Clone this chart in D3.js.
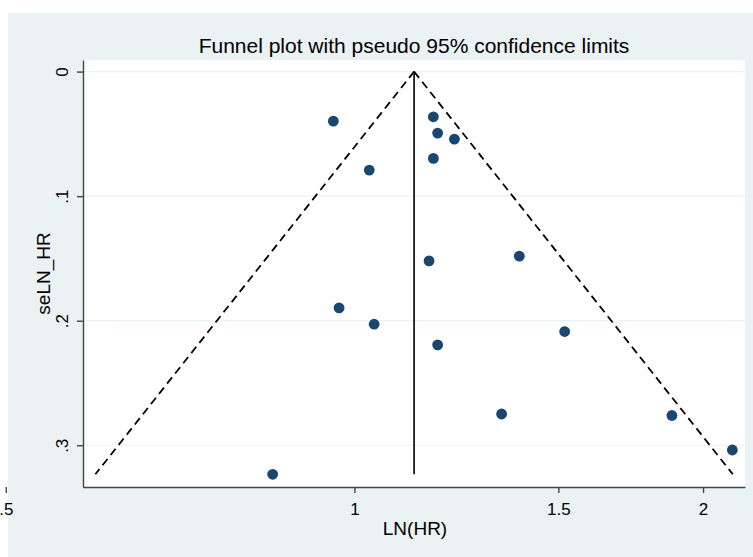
<!DOCTYPE html>
<html>
<head>
<meta charset="utf-8">
<script src="https://cdn.jsdelivr.net/npm/d3@7"></script>
<style>
  body { margin: 0; background: #fff; }
  text { font-family: "Liberation Sans", Arial, sans-serif; fill: #000; }
</style>
</head>
<body>
<div id="vis"></div>
<script>
// study estimates read off the funnel (hazard ratio and its standard error)
const hrValues = [0.959, 1.170, 1.180, 1.220, 1.170, 1.030, 1.160, 1.388,
                  0.970, 1.040, 1.519, 1.180, 1.340, 1.880, 2.120, 0.850];
const seValues = [0.0398, 0.0363, 0.0494, 0.0542, 0.0697, 0.0791, 0.1520, 0.1482,
                  0.1897, 0.2028, 0.2087, 0.2194, 0.2749, 0.2761, 0.3038, 0.3233];

// pooled estimate at the apex of the funnel
const pooledHR = 1.126;

const xTicks = [0.5, 1, 1.5, 2];
const xTickLabels = [".5", "1", "1.5", "2"];
const yTicks = [0, 0.1, 0.2, 0.3];
const yTickLabels = ["0", ".1", ".2", ".3"];

const titleText = "Funnel plot with pseudo 95% confidence limits";
const xTitle = "LN(HR)";
const yTitle = "seLN_HR";

const width = 753;
const height = 557;

// plot region box
const plot = { left: 83, right: 745, top: 60, bottom: 487 };

const svg = d3
  .select("#vis")
  .append("svg")
  .attr("width", width)
  .attr("height", height);

// graph region background
svg.append("rect")
  .attr("x", 8)
  .attr("y", 13)
  .attr("width", width - 8)
  .attr("height", height - 13)
  .attr("fill", "#EAF2F3");

svg.append("rect")
  .attr("x", plot.left)
  .attr("y", plot.top)
  .attr("width", plot.right - plot.left)
  .attr("height", plot.bottom - plot.top)
  .attr("fill", "#fff");

// x is on a log scale, y runs downwards (se 0 at top)
const x = d3.scaleLog()
  .domain([0.583, 2.174])
  .range([plot.left, plot.right]);

const y = d3.scaleLinear()
  .domain([-0.0093, 0.3335])
  .range([plot.top, plot.bottom]);

// gridlines
svg.append("g")
  .selectAll("line")
  .data(yTicks)
  .enter()
  .append("line")
  .attr("x1", plot.left)
  .attr("x2", plot.right)
  .attr("y1", d => y(d))
  .attr("y2", d => y(d))
  .attr("stroke", "#EAF2F3")
  .attr("stroke-width", 1.2);

// pseudo 95% limits, from se = 0 down to the largest se
const maxSe = d3.max(seValues);
const theta = Math.log(pooledHR);
const limitLine = d3.line()
  .x(d => x(Math.exp(theta + d[0] * 1.96 * d[1])))
  .y(d => y(d[1]));

[-1, 1].forEach(side => {
  svg.append("path")
    .attr("d", limitLine([[side, 0], [side, maxSe]]))
    .attr("fill", "none")
    .attr("stroke", "#000")
    .attr("stroke-width", 1.8)
    .attr("stroke-dasharray", "8,5");
});

svg.append("line")
  .attr("x1", x(pooledHR))
  .attr("x2", x(pooledHR))
  .attr("y1", y(0))
  .attr("y2", y(maxSe))
  .attr("stroke", "#000")
  .attr("stroke-width", 1.6);

// study points
const points = hrValues.map((d, i) => ({ hr: d, se: seValues[i] }));

svg.append("g")
  .selectAll("circle")
  .data(points)
  .enter()
  .append("circle")
  .attr("cx", d => x(d.hr))
  .attr("cy", d => y(d.se))
  .attr("r", 5.4)
  .attr("fill", "#1A476F");

// axes
const xAxis = svg.append("g")
  .attr("transform", `translate(0,${plot.bottom})`)
  .call(d3.axisBottom(x)
    .tickValues(xTicks)
    .tickFormat((d, i) => xTickLabels[i])
    .tickSize(6)
    .tickSizeOuter(0)
    .tickPadding(10));

const yAxis = svg.append("g")
  .attr("transform", `translate(${plot.left},0)`)
  .call(d3.axisLeft(y)
    .tickValues(yTicks)
    .tickFormat((d, i) => yTickLabels[i])
    .tickSize(6)
    .tickSizeOuter(0));

[xAxis, yAxis].forEach(g => {
  g.select(".domain").attr("stroke", "#444").attr("stroke-width", 1.4);
  g.selectAll(".tick line").attr("stroke", "#444").attr("stroke-width", 1.4);
  g.selectAll("text")
    .style("font-size", "17px")
    .attr("fill", "#000");
});

// stata draws the y labels turned on their side
yAxis.selectAll(".tick text")
  .attr("x", null)
  .attr("dy", null)
  .attr("text-anchor", "middle")
  .attr("transform", "translate(-15,0) rotate(-90)");

// titles
svg.append("text")
  .attr("x", 414)
  .attr("y", 53)
  .attr("text-anchor", "middle")
  .style("font-size", "21px")
  .text(titleText);

svg.append("text")
  .attr("x", 415)
  .attr("y", 535)
  .attr("text-anchor", "middle")
  .style("font-size", "19px")
  .text(xTitle);

svg.append("text")
  .attr("transform", `translate(50,${(plot.top + plot.bottom) / 2}) rotate(-90)`)
  .attr("text-anchor", "middle")
  .style("font-size", "19px")
  .text(yTitle);
</script>
</body>
</html>
